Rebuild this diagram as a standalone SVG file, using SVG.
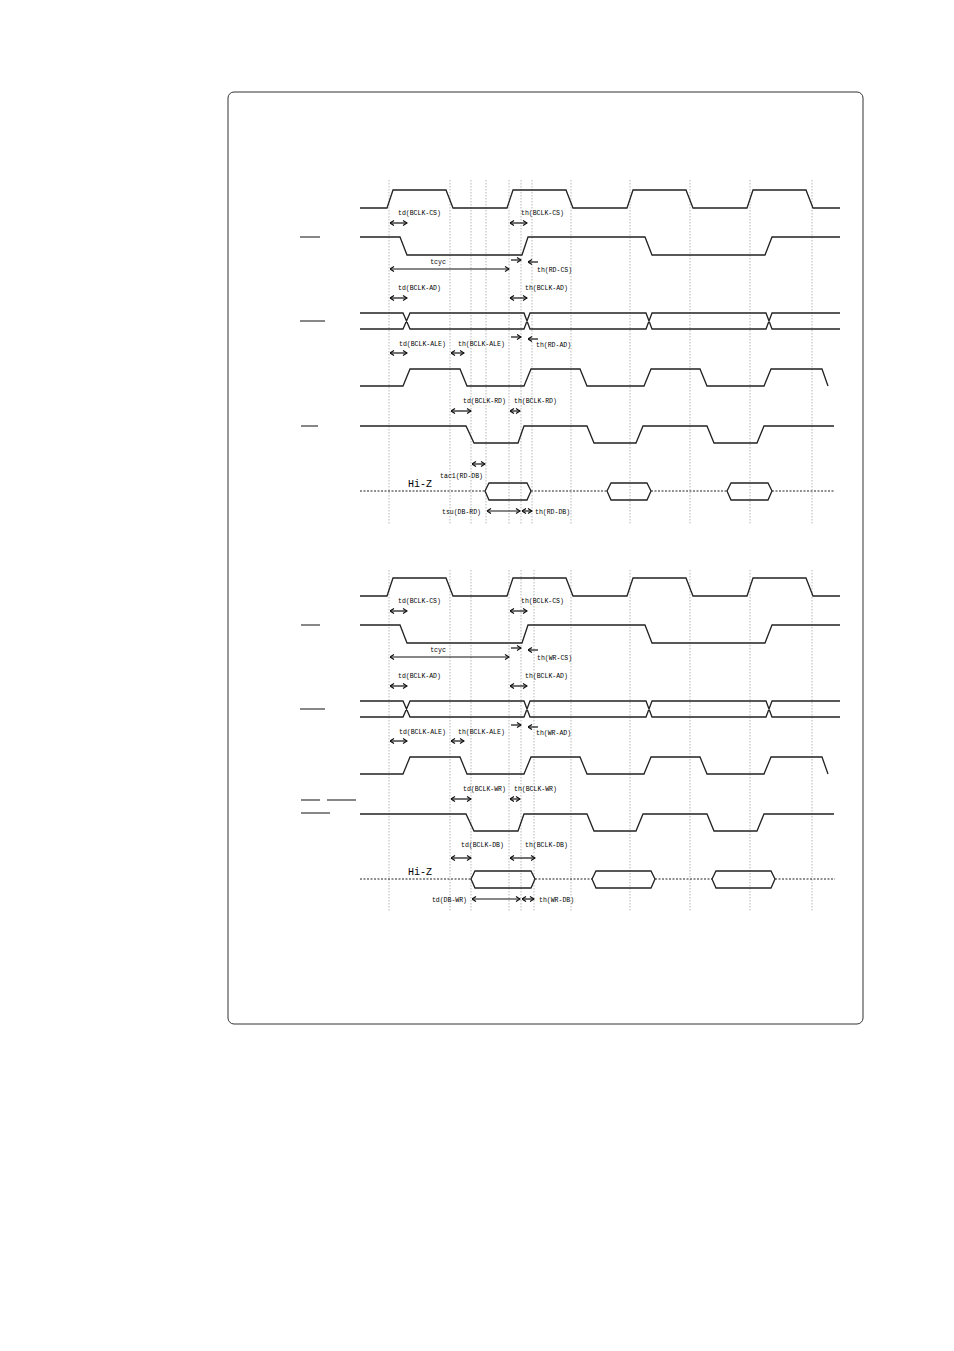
<svg xmlns="http://www.w3.org/2000/svg" width="954" height="1351" viewBox="0 0 954 1351">
<style>
.s{fill:none;stroke:#222;stroke-width:1.3}
.g{stroke:#999;stroke-width:0.7;stroke-dasharray:1.5,1.5}
.d{fill:none;stroke:#222;stroke-width:1;stroke-dasharray:2,1.5}
.a{stroke:#111;stroke-width:1.2;marker-start:url(#h);marker-end:url(#h)}
.r{stroke:#111;stroke-width:1.2;marker-end:url(#h)}
.t{font-family:"Liberation Mono",monospace;font-size:6.5px;fill:#000}
.z{font-family:"Liberation Mono",monospace;font-size:10px;fill:#000}
.b{stroke:#111;stroke-width:1.2}
</style>
<defs>
<marker id="h" markerWidth="6" markerHeight="6" refX="5.5" refY="3" orient="auto-start-reverse" markerUnits="userSpaceOnUse"><path d="M1.5,0.5 L5.5,3 L1.5,5.5" fill="none" stroke="#111" stroke-width="1.2"/></marker>
</defs>
<rect x="228" y="92" width="635" height="932" rx="6" fill="#fff" stroke="#333" stroke-width="1"/>
<g id="grid">
<path class="g" d="M389,180V525M450,180V525M471,180V525M486,180V525M509,180V525M521,180V525M532,180V525M571,180V525M630,180V525M690,180V525M750,180V525M812,180V525"/>
<path class="g" d="M389,570V912M450,570V912M471,570V912M509,570V912M521,570V912M534,570V912M571,570V912M630,570V912M690,570V912M750,570V912M812,570V912"/>
</g>
<g id="labels">
<path class="b" d="M300,237H320M300,321H325M301,426H318M301,625H320M300,709H325M301,800H320M327,800H356M301,813H330"/>
</g>
<g id="top">
<polyline class="s" points="360,208 387,208 393,190 446,190 453,208 507,208 513,190 566,190 573,208 627,208 633,190 686,190 693,208 747,208 753,190 806,190 813,208 840,208"/>
<polyline class="s" points="360,237 400,237 407,255 522,255 528,237 645,237 652,255 765,255 772,237 840,237"/>
<path class="s" d="M360,313H403L410,329H524L530,313H646L652,329H766L772,313H840M360,329H403L410,313H524L530,329H646L652,313H766L772,329H840"/>
<polyline class="s" points="360,386 403,386 410,369 460,369 467,386 524,386 531,369 580,369 587,386 644,386 651,369 700,369 707,386 764,386 771,369 822,369 828,386"/>
<polyline class="s" points="360,426 466,426 474,443 518,443 524,426 587,426 594,443 636,443 643,426 707,426 714,443 757,443 764,426 834,426"/>
<path class="d" d="M360,491H485M531,491H607M651,491H727M772,491H835"/>
<path class="s" d="M485,491L489,483H527L531,491L527,500H489Z M607,491L611,483H647L651,491L647,500H611Z M727,491L731,483H768L772,491L768,500H731Z"/>
<text class="z" x="408" y="487">Hi-Z</text>
</g>
<g id="topannot">
<text class="t" x="398" y="215">td(BCLK-CS)</text>
<line class="a" x1="390" y1="223" x2="407" y2="223"/>
<text class="t" x="521" y="215">th(BCLK-CS)</text>
<line class="a" x1="510" y1="223" x2="527" y2="223"/>
<text class="t" x="438" y="264" text-anchor="middle">tcyc</text>
<line class="a" x1="390" y1="269" x2="509" y2="269"/>
<line class="r" x1="511" y1="260" x2="521" y2="260"/>
<line class="r" x1="538" y1="262" x2="528" y2="262"/>
<text class="t" x="537" y="272">th(RD-CS)</text>
<text class="t" x="398" y="290">td(BCLK-AD)</text>
<line class="a" x1="390" y1="298" x2="407" y2="298"/>
<text class="t" x="525" y="290">th(BCLK-AD)</text>
<line class="a" x1="510" y1="298" x2="527" y2="298"/>
<line class="r" x1="511" y1="337" x2="521" y2="337"/>
<line class="r" x1="538" y1="339" x2="528" y2="339"/>
<text class="t" x="536" y="347">th(RD-AD)</text>
<text class="t" x="399" y="346">td(BCLK-ALE)</text>
<line class="a" x1="390" y1="353" x2="407" y2="353"/>
<text class="t" x="458" y="346">th(BCLK-ALE)</text>
<line class="a" x1="451" y1="353" x2="464" y2="353"/>
<text class="t" x="463" y="403">td(BCLK-RD)</text>
<line class="a" x1="451" y1="411" x2="471" y2="411"/>
<text class="t" x="514" y="403">th(BCLK-RD)</text>
<line class="a" x1="510" y1="411" x2="520" y2="411"/>
<line class="a" x1="472" y1="464" x2="485" y2="464"/>
<text class="t" x="483" y="478" text-anchor="end">tac1(RD-DB)</text>
<text class="t" x="481" y="514" text-anchor="end">tsu(DB-RD)</text>
<line class="a" x1="487" y1="511" x2="520" y2="511"/>
<line class="a" x1="522" y1="511" x2="532" y2="511"/>
<text class="t" x="535" y="514">th(RD-DB)</text>
</g>
<g id="bottom" transform="translate(0,388)">
<polyline class="s" points="360,208 387,208 393,190 446,190 453,208 507,208 513,190 566,190 573,208 627,208 633,190 686,190 693,208 747,208 753,190 806,190 813,208 840,208"/>
<polyline class="s" points="360,237 400,237 407,255 522,255 528,237 645,237 652,255 765,255 772,237 840,237"/>
<path class="s" d="M360,313H403L410,329H524L530,313H646L652,329H766L772,313H840M360,329H403L410,313H524L530,329H646L652,313H766L772,329H840"/>
<polyline class="s" points="360,386 403,386 410,369 460,369 467,386 524,386 531,369 580,369 587,386 644,386 651,369 700,369 707,386 764,386 771,369 822,369 828,386"/>
<polyline class="s" points="360,426 466,426 474,443 518,443 524,426 587,426 594,443 636,443 643,426 707,426 714,443 757,443 764,426 834,426"/>
<path class="d" d="M360,491H471M535,491H592M655,491H712M775,491H835"/>
<path class="s" d="M471,491L475,483H531L535,491L531,500H475Z M592,491L596,483H651L655,491L651,500H596Z M712,491L716,483H771L775,491L771,500H716Z"/>
<text class="z" x="408" y="487">Hi-Z</text>
</g>
<g id="botannot" transform="translate(0,388)">
<text class="t" x="398" y="215">td(BCLK-CS)</text>
<line class="a" x1="390" y1="223" x2="407" y2="223"/>
<text class="t" x="521" y="215">th(BCLK-CS)</text>
<line class="a" x1="510" y1="223" x2="527" y2="223"/>
<text class="t" x="438" y="264" text-anchor="middle">tcyc</text>
<line class="a" x1="390" y1="269" x2="509" y2="269"/>
<line class="r" x1="511" y1="260" x2="521" y2="260"/>
<line class="r" x1="538" y1="262" x2="528" y2="262"/>
<text class="t" x="537" y="272">th(WR-CS)</text>
<text class="t" x="398" y="290">td(BCLK-AD)</text>
<line class="a" x1="390" y1="298" x2="407" y2="298"/>
<text class="t" x="525" y="290">th(BCLK-AD)</text>
<line class="a" x1="510" y1="298" x2="527" y2="298"/>
<line class="r" x1="511" y1="337" x2="521" y2="337"/>
<line class="r" x1="538" y1="339" x2="528" y2="339"/>
<text class="t" x="536" y="347">th(WR-AD)</text>
<text class="t" x="399" y="346">td(BCLK-ALE)</text>
<line class="a" x1="390" y1="353" x2="407" y2="353"/>
<text class="t" x="458" y="346">th(BCLK-ALE)</text>
<line class="a" x1="451" y1="353" x2="464" y2="353"/>
<text class="t" x="463" y="403">td(BCLK-WR)</text>
<line class="a" x1="451" y1="411" x2="471" y2="411"/>
<text class="t" x="514" y="403">th(BCLK-WR)</text>
<line class="a" x1="510" y1="411" x2="520" y2="411"/>
<text class="t" x="461" y="459">td(BCLK-DB)</text>
<line class="a" x1="451" y1="470" x2="471" y2="470"/>
<text class="t" x="525" y="459">th(BCLK-DB)</text>
<line class="a" x1="510" y1="470" x2="535" y2="470"/>
<text class="t" x="467" y="514" text-anchor="end">td(DB-WR)</text>
<line class="a" x1="472" y1="511" x2="520" y2="511"/>
<line class="a" x1="522" y1="511" x2="534" y2="511"/>
<text class="t" x="539" y="514">th(WR-DB)</text>
</g>
</svg>
